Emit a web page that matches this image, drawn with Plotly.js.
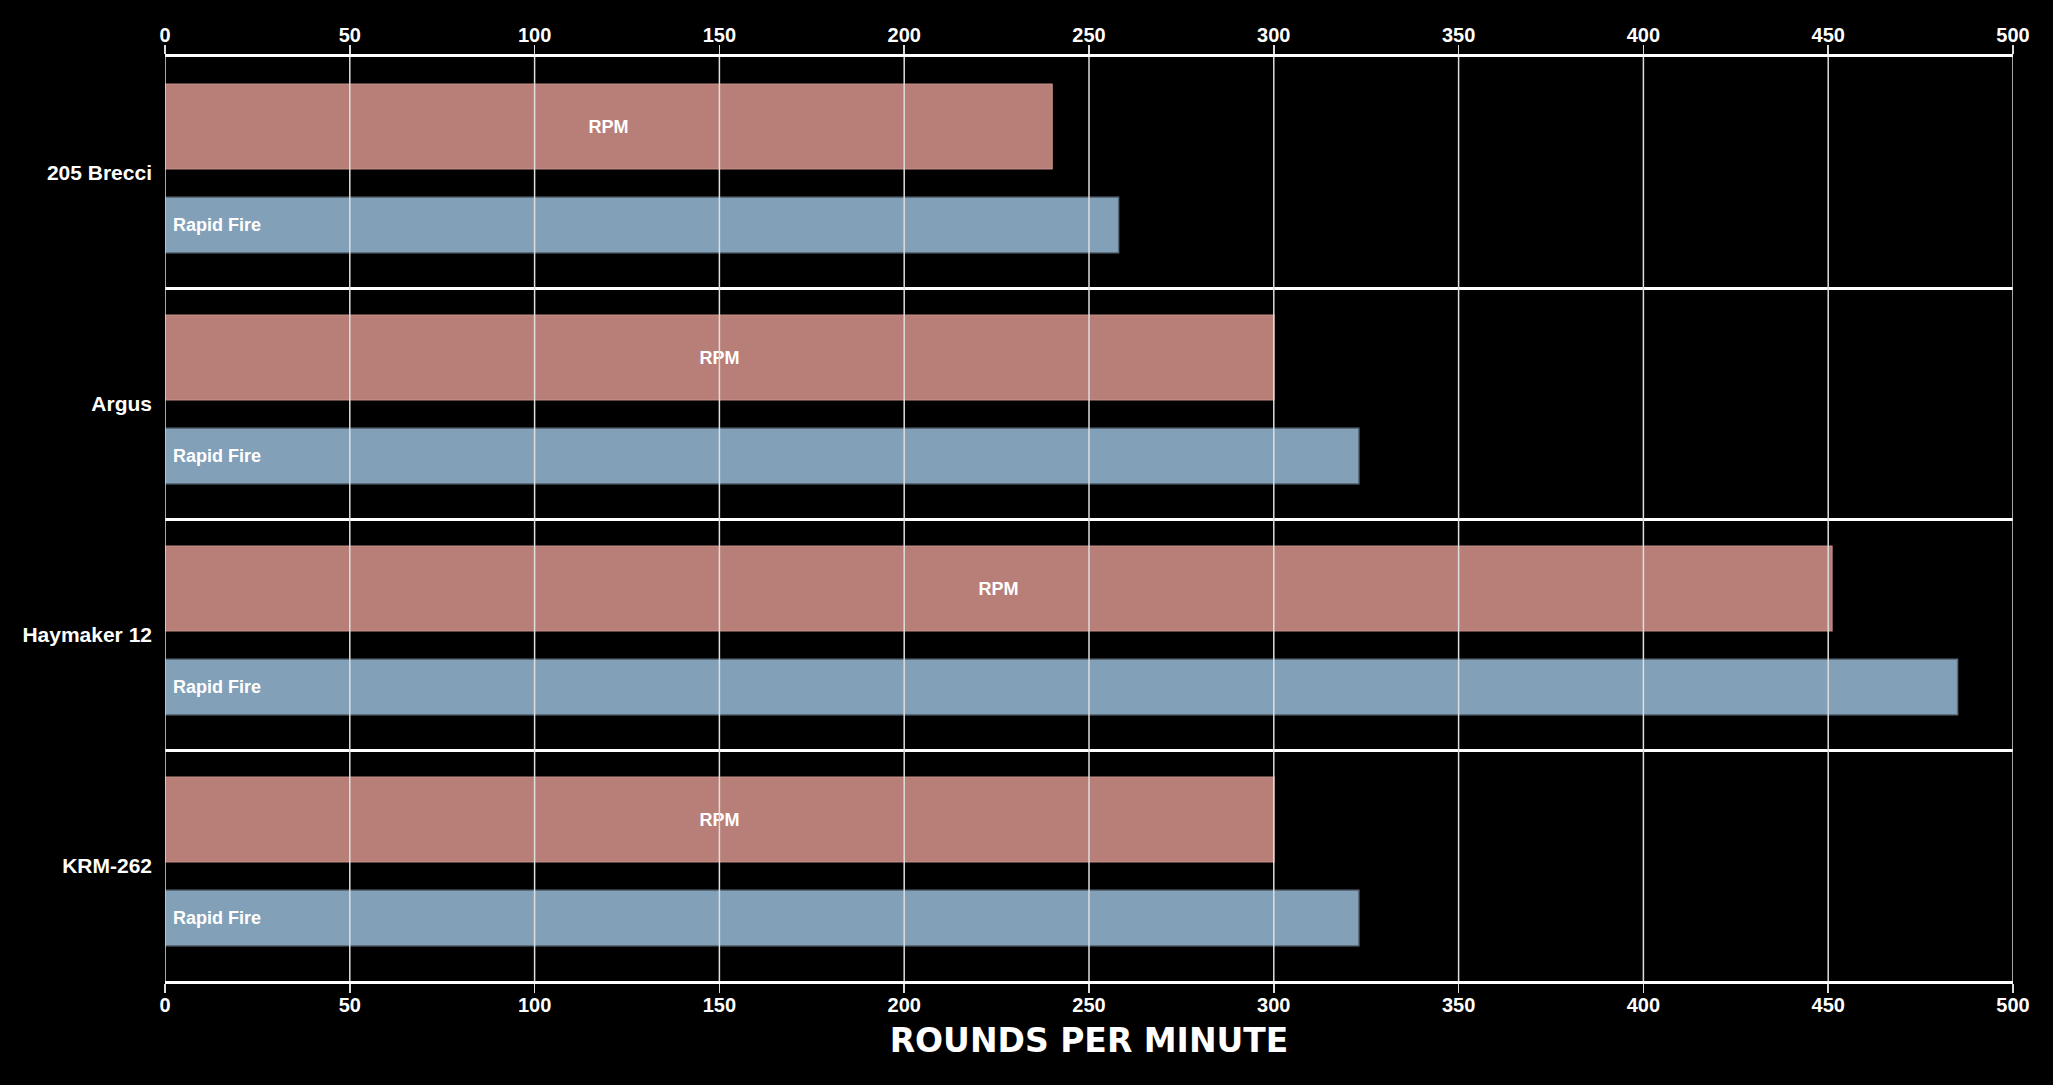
<!DOCTYPE html>
<html>
<head>
<meta charset="utf-8">
<script src="https://cdn.plot.ly/plotly-3.0.1.min.js"></script>
<style>
html,body{margin:0;padding:0;background:#000;}
#chart{width:2053px;height:1085px;}
</style>
</head>
<body>
<div id="chart"></div>
<script>
// ---- data ----
const weapons = ["205 Brecci", "Argus", "Haymaker 12", "KRM-262"];
const rpmValues = [240, 300, 451, 300];
const rapidFireValues = [258, 323, 485, 323];
const rpmLabel = "RPM";
const rapidFireLabel = " Rapid Fire";
const xTicks = [0, 50, 100, 150, 200, 250, 300, 350, 400, 450, 500];
const xTitle = "ROUNDS PER MINUTE";

const baseFont = "Arial, 'Liberation Sans', sans-serif";

const rpmTrace = {
  type: "bar",
  orientation: "h",
  name: "RPM",
  y: weapons,
  x: rpmValues,
  width: 0.366,
  offset: -0.382,
  marker: {color: "#B87F78", line: {color: "#c08a83", width: 1.5}},
  text: weapons.map(() => rpmLabel),
  textposition: "inside",
  insidetextanchor: "middle",
  textangle: 0,
  constraintext: "none",
  textfont: {family: baseFont, size: 18, color: "#ffffff", weight: "bold"},
  hoverinfo: "x+y",
  showlegend: false
};

const rfTrace = {
  type: "bar",
  orientation: "h",
  name: "Rapid Fire",
  y: weapons,
  x: rapidFireValues,
  width: 0.24,
  offset: 0.107,
  marker: {color: "#82A1B9", line: {color: "#5d6c7a", width: 1.5}},
  text: weapons.map(() => rapidFireLabel),
  textposition: "inside",
  insidetextanchor: "start",
  textangle: 0,
  constraintext: "none",
  textfont: {family: baseFont, size: 18, color: "#ffffff", weight: "bold"},
  hoverinfo: "x+y",
  showlegend: false
};

// invisible trace so the top axis is drawn
const topAxisTrace = {
  type: "bar",
  orientation: "h",
  y: weapons,
  x: rapidFireValues,
  xaxis: "x2",
  yaxis: "y",
  opacity: 0,
  hoverinfo: "skip",
  showlegend: false
};

const tickFont = {family: baseFont, size: 20, color: "#ffffff", weight: "bold"};

const xCommon = {
  range: [xTicks[0], xTicks[xTicks.length - 1]],
  tickmode: "array",
  tickvals: xTicks,
  ticktext: xTicks.map(String),
  showgrid: false,
  zeroline: false,
  ticks: "outside",
  ticklen: 9,
  tickwidth: 1.5,
  tickcolor: "#dddddd",
  ticklabelstandoff: -5,
  showline: true,
  linecolor: "#ffffff",
  linewidth: 3,
  tickfont: tickFont,
  layer: "above traces",
  fixedrange: true
};

// vertical grid lines drawn above bars, one per tick value
const gridShapes = xTicks.map(v => ({
  type: "line",
  xref: "x",
  yref: "paper",
  x0: v, x1: v,
  y0: 0, y1: 1,
  layer: "above",
  line: {color: "#dedede", width: 1.5}
}));

const layout = {
  width: 2053,
  height: 1085,
  paper_bgcolor: "#000000",
  plot_bgcolor: "#000000",
  margin: {l: 165, r: 40, t: 57, b: 104, pad: 0},
  barmode: "overlay",
  showlegend: false,
  xaxis: Object.assign({}, xCommon, {
    side: "bottom",
    title: {
      text: xTitle,
      standoff: 14,
      font: {family: "'DejaVu Sans', sans-serif", size: 33, color: "#ffffff", weight: "bold"}
    },
    automargin: false
  }),
  xaxis2: Object.assign({}, xCommon, {
    side: "top",
    overlaying: "x",
    matches: "x",
    automargin: false
  }),
  yaxis: {
    type: "category",
    categoryorder: "array",
    categoryarray: weapons,
    range: [weapons.length - 0.5, -0.5],
    tickson: "boundaries",
    showgrid: true,
    gridcolor: "#ffffff",
    gridwidth: 3,
    ticks: "",
    ticklabelstandoff: 12,
    showline: false,
    zeroline: false,
    tickfont: {family: baseFont, size: 21, color: "#ffffff", weight: "bold"},
    automargin: false,
    fixedrange: true
  },
  shapes: gridShapes
};

Plotly.newPlot("chart", [rpmTrace, rfTrace, topAxisTrace], layout, {displayModeBar: false, staticPlot: true});
</script>
</body>
</html>
